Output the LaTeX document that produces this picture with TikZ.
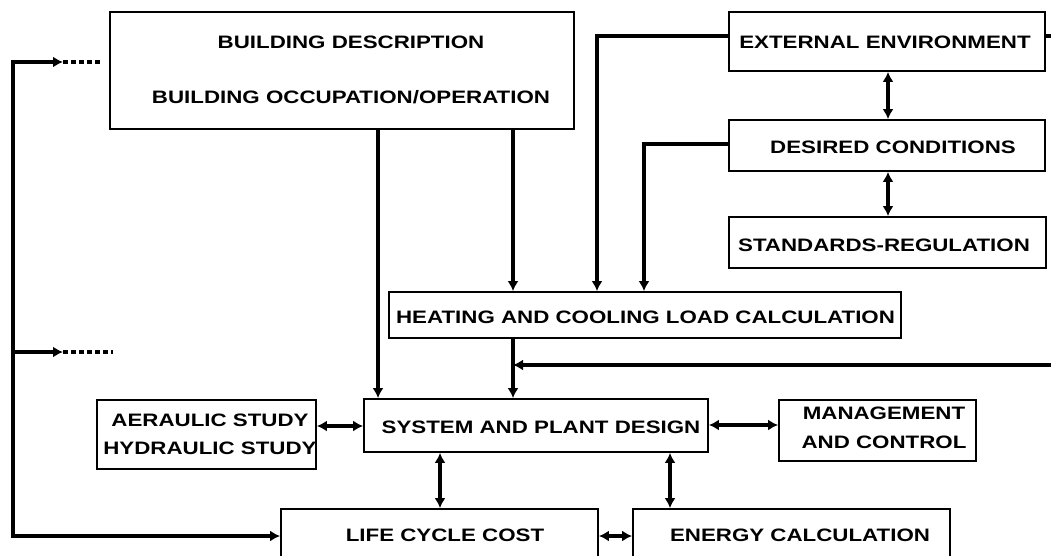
\documentclass[tikz,border=0pt]{standalone}
\usepackage{fontspec}
\newfontfamily\dfont{Liberation Sans}[FakeStretch=1.24]
\usetikzlibrary{arrows.meta}
\tikzset{
  box/.style={draw=black, line width=1.8pt, rectangle, inner sep=0pt, fill=white},
  txt/.style={font=\dfont\bfseries\fontsize{18}{21}\selectfont, inner sep=0pt, align=center},
  conn/.style={line width=3.5pt, line cap=butt, >={Latex[length=10pt,width=11pt]}},
  dashline/.style={line width=3.5pt, dash pattern=on 5pt off 3pt}
}
\begin{document}
\begin{tikzpicture}[x=1pt,y=-1pt]
\useasboundingbox (0,0) rectangle (1051,556);
\clip (0,0) rectangle (1051,556);
\fill[white] (0,0) rectangle (1051,556);

% boxes
\node[box, minimum width=464pt, minimum height=117pt] (bd) at (342,70.5) {};
\node[box, minimum width=316pt, minimum height=59pt] (ee) at (887,41.5) {};
\node[box, minimum width=316pt, minimum height=51pt] (dc) at (887,145.5) {};
\node[box, minimum width=317pt, minimum height=51pt] (sr) at (887.5,242.5) {};
\node[box, minimum width=512pt, minimum height=46pt] (hc) at (645,315) {};
\node[box, minimum width=344pt, minimum height=53pt] (sp) at (536,425.5) {};
\node[box, minimum width=219pt, minimum height=69pt] (ah) at (206.5,434.5) {};
\node[box, minimum width=197pt, minimum height=61pt] (mc) at (877.5,430.5) {};
\node[box, minimum width=317pt, minimum height=60pt] (lc) at (439.5,539) {};
\node[box, minimum width=317pt, minimum height=60pt] (ec) at (791.5,539) {};

% texts
\node[txt] (bdt1) at (351,42) {BUILDING DESCRIPTION};
\node[txt] (bdt2) at (351,97) {BUILDING OCCUPATION/OPERATION};
\node[txt] (eet) at (885,42) {EXTERNAL ENVIRONMENT};
\node[txt] (dct) at (893,147) {DESIRED CONDITIONS};
\node[txt] (srt) at (884,245) {STANDARDS-REGULATION};
\node[txt] (hct) at (645.5,317) {HEATING AND COOLING LOAD CALCULATION};
\node[txt] (spt) at (541,427) {SYSTEM AND PLANT DESIGN};
\node[txt, font=\dfont\bfseries\fontsize{18}{28}\selectfont] (aht) at (210,434) {AERAULIC STUDY\\HYDRAULIC STUDY};
\node[txt, font=\dfont\bfseries\fontsize{18}{29}\selectfont] (mct) at (884,427.5) {MANAGEMENT\\AND CONTROL};
\node[txt] (lct) at (445,535) {LIFE CYCLE COST};
\node[txt] (ect) at (800,535) {ENERGY CALCULATION};

% free ends
\coordinate (rin) at (1051,365);
\coordinate (jn) at (513,365);
\coordinate (rout) at (1051,36);
\coordinate (c1) at (13,62);
\coordinate (c2) at (13,352);
\coordinate (lt) at (63,62);
\coordinate (lm) at (63,352);
\coordinate (ld1) at (100,62);
\coordinate (ld2) at (113,352);

% connectors
\draw[conn,->] (bd.south -| 378,0) -- (sp.north -| 378,0);
\draw[conn,->] (bd.south -| 513,0) -- (hc.north -| 513,0);
\draw[conn,->] (ee.west |- 0,36) -| (hc.north -| 597,0);
\draw[conn,->] (dc.west |- 0,144) -| (hc.north -| 644,0);
\draw[conn,<->] (ee.south -| 888,0) -- (dc.north -| 888,0);
\draw[conn,<->] (dc.south -| 888,0) -- (sr.north -| 888,0);
\draw[conn,->] (hc.south -| 513,0) -- (sp.north -| 513,0);
\draw[conn,->] (rin) -- (jn);
\draw[conn] (ee.east |- 0,36) -- (rout);
\draw[conn,<->] (ah.east |- 0,426) -- (sp.west |- 0,426);
\draw[conn,<->] (sp.east |- 0,425) -- (mc.west |- 0,425);
\draw[conn,<->] (sp.south -| 440,0) -- (lc.north -| 440,0);
\draw[conn,<->] (sp.south -| 670,0) -- (ec.north -| 670,0);
\draw[conn,<->] (lc.east |- 0,536) -- (ec.west |- 0,536);
\draw[conn,<->,line join=miter] (lc.west |- 0,536) -| (c1) -- (lt);
\draw[conn,->] (c2) -- (lm);
\draw[dashline] (lt) -- (ld1);
\draw[dashline] (lm) -- (ld2);
\end{tikzpicture}
\end{document}
